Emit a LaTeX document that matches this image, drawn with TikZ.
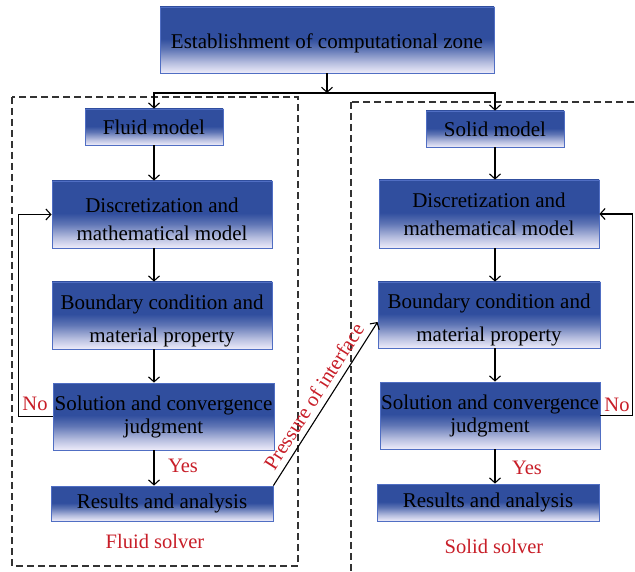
\documentclass[tikz,border=0pt]{standalone}
\usepackage{fontspec}
\setmainfont{Liberation Serif}
\usetikzlibrary{arrows.meta}
\definecolor{boxblue}{RGB}{48,78,158}
\definecolor{boxedge}{RGB}{80,110,195}
\definecolor{boxlow}{RGB}{238,236,250}
\definecolor{lblred}{RGB}{200,30,40}
\colorlet{boxmidA}{boxblue!30!boxlow}
\colorlet{boxmidB}{boxblue!75!boxlow}
\pgfdeclareverticalshading{boxshade}{100bp}{color(0bp)=(boxlow); color(25bp)=(boxlow); color(33bp)=(boxmidA); color(43bp)=(boxmidB); color(51bp)=(boxblue); color(75bp)=(boxblue); color(100bp)=(boxblue)}
\newcommand{\lowerstrut}[1]{\rule{0pt}{#1}}
\tikzset{
  box/.style={draw=boxedge, line width=0.8pt, shading=boxshade, inner sep=0pt, align=center,
    font=\fontsize{21}{28}\selectfont, text=black},
  lbl/.style={text=lblred, font=\fontsize{20.5}{24}\selectfont, inner sep=0pt},
  arr/.style={line width=1.1pt, -{Straight Barb[length=5pt,width=11pt]}},
  zone/.style={line width=1.2pt, dash pattern=on 7pt off 4pt, black!80}
}
\begin{document}
\begin{tikzpicture}[x=1pt,y=-1pt]
\clip (0,0) rectangle (635,572);
\fill[white] (0,0) rectangle (635,572);
% dashed zones
\draw[zone] (12,97) rectangle (298,566);
\draw[zone] (351,102) rectangle (660,600);
% top
\node[box, minimum width=334pt, minimum height=66pt] (top) at (327,40) {\lowerstrut{22pt}Establishment of computational zone};
\coordinate (split) at (327,93);
% fluid column
\node[box, minimum width=138pt, minimum height=36pt] (fluid) at (154,127) {Fluid model};
\node[box, minimum width=220pt, minimum height=67pt] (fdisc) at (162,214.5) {\lowerstrut{25pt}Discretization and\\mathematical model};
\node[box, minimum width=220pt, minimum height=67pt] (fbound) at (162,315.5) {\lowerstrut{25pt}Boundary condition and\\[5pt]material property};
\node[box, minimum width=221pt, minimum height=67pt] (fsol) at (163.5,416.5) {Solution and convergence\\[-5pt]judgment};
\node[box, minimum width=222pt, minimum height=35pt] (fres) at (162,503.5) {Results and analysis};
% solid column
\node[box, minimum width=138pt, minimum height=36pt] (solid) at (495,129) {Solid model};
\node[box, minimum width=220pt, minimum height=68pt] (sdisc) at (489,214) {Discretization and\\mathematical model};
\node[box, minimum width=222pt, minimum height=66pt] (sbound) at (489,315) {\lowerstrut{25pt}Boundary condition and\\[5pt]material property};
\node[box, minimum width=220pt, minimum height=67pt] (ssol) at (490,415.5) {Solution and convergence\\[-5pt]judgment};
\node[box, minimum width=222pt, minimum height=37pt] (sres) at (488,502.5) {Results and analysis};
% connectors top
\draw[arr] (top.south) -- (split);
\draw[arr] (split) -| (fluid.north);
\draw[arr] (split) -| (solid.north);
% fluid arrows
\draw[arr] (fluid.south) -- (fluid.south |- fdisc.north);
\draw[arr] (fluid.south |- fdisc.south) -- (fluid.south |- fbound.north);
\draw[arr] (fluid.south |- fbound.south) -- (fluid.south |- fsol.north);
\draw[arr] (fluid.south |- fsol.south) -- (fluid.south |- fres.north);
\draw[arr] (fsol.west) -- ++(-34,0) |- (fdisc.west);
% solid arrows
\draw[arr] (solid.south) -- (solid.south |- sdisc.north);
\draw[arr] (solid.south |- sdisc.south) -- (solid.south |- sbound.north);
\draw[arr] (solid.south |- sbound.south) -- (solid.south |- ssol.north);
\draw[arr] (solid.south |- ssol.south) -- (solid.south |- sres.north);
\draw[arr] (ssol.east) -- ++(32,0) |- (sdisc.east);
% interface
\draw[arr] (fres.north east) -- ([yshift=-7pt]sbound.west)
  node[lbl, midway, sloped, above=6pt] (press) {Pressure of interface};
% labels
\node[lbl] (fyes) at (183,466) {Yes};
\node[lbl] (syes) at (527,468) {Yes};
\node[lbl] (fno) at (35,404) {No};
\node[lbl] (sno) at (617,405) {No};
\node[lbl] (fsolver) at (155,541) {Fluid solver};
\node[lbl] (ssolver) at (494,546) {Solid solver};
\end{tikzpicture}
\end{document}
